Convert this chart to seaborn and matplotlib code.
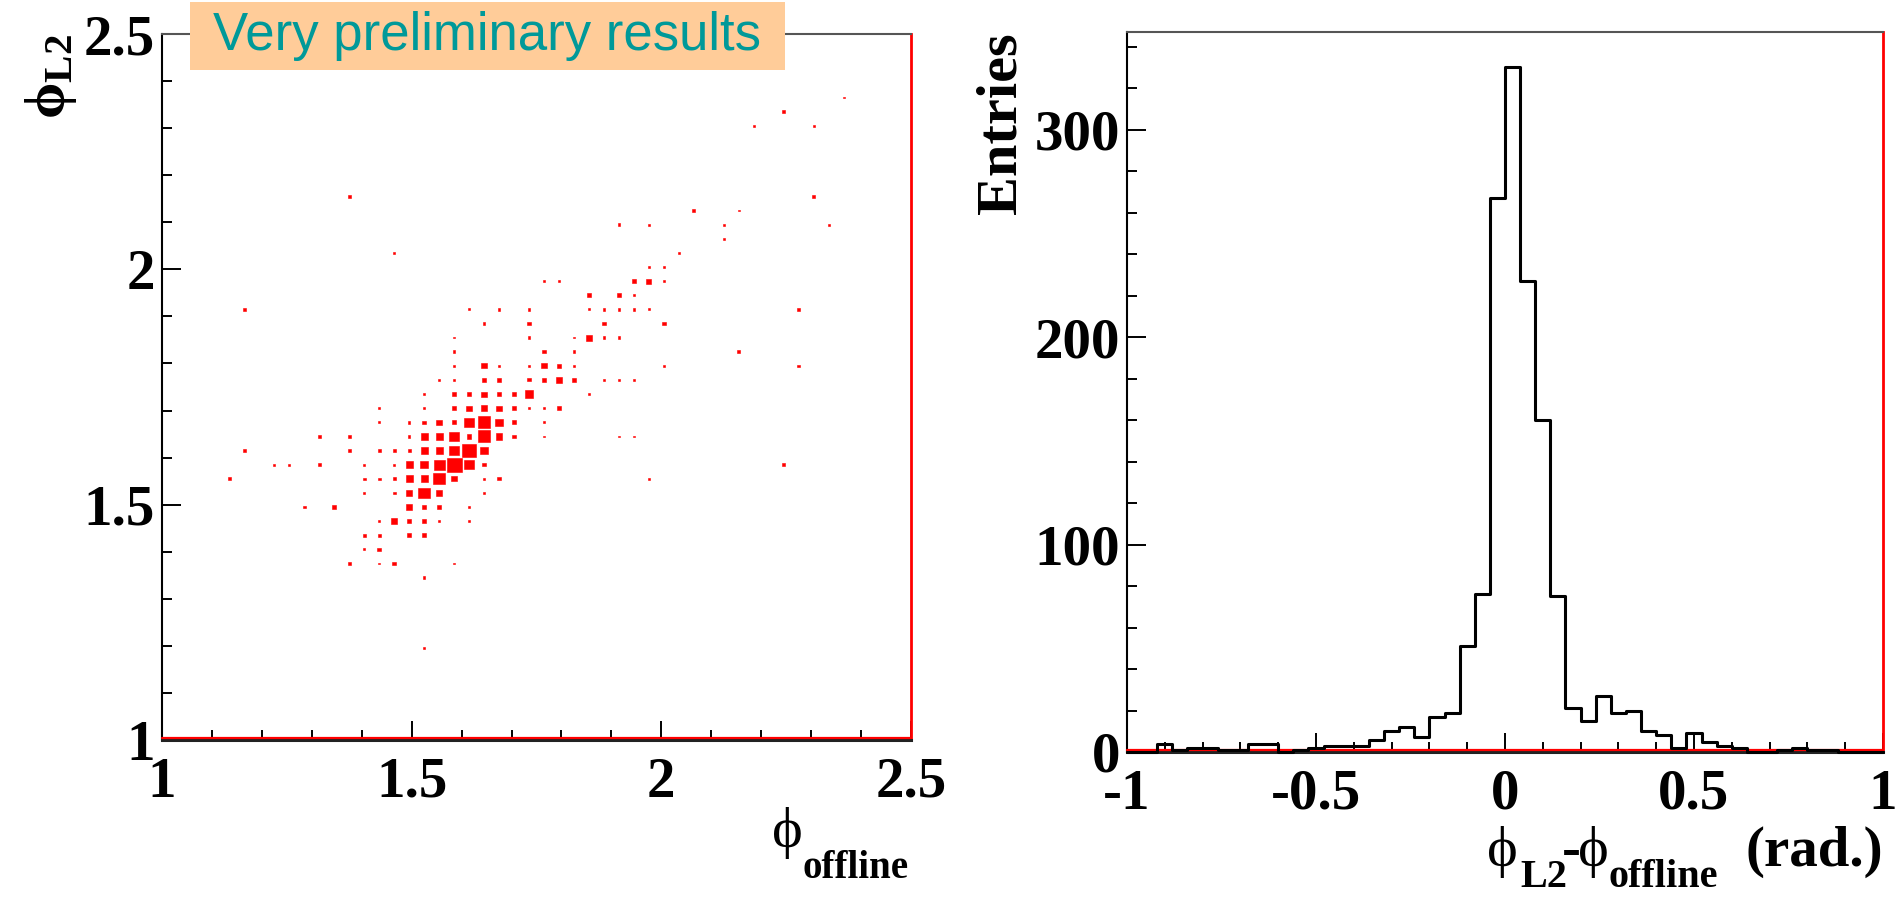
import numpy as np
import pandas as pd
import matplotlib
matplotlib.use('Agg')
import matplotlib.pyplot as plt
from matplotlib.patches import Rectangle
from matplotlib.collections import PatchCollection
from matplotlib.ticker import MultipleLocator, FuncFormatter
from matplotlib.transforms import offset_copy
import seaborn as sns

# phi_L2 vs phi_offline: 50x50 bins on [1, 2.5], only the filled cells
# (one line per phi_L2 bin)
off_bin = [17,
           17,
           12, 14, 15, 19,
           13, 14,
           13, 14, 16, 17,
           14, 15, 16, 17, 18, 20,
           9, 11, 16, 17, 18, 20,
           13, 15, 16, 17, 18, 21,
           4, 13, 14, 15, 16, 17, 18, 19, 21, 22, 32,
           7, 8, 10, 13, 15, 16, 17, 18, 19, 20, 21, 41,
           5, 12, 14, 15, 16, 17, 18, 19, 20, 21,
           10, 12, 16, 17, 18, 19, 20, 21, 22, 23, 25, 30, 31,
           14, 16, 17, 18, 19, 20, 21, 22, 23, 25,
           14, 17, 19, 20, 21, 22, 23, 24, 25, 26,
           17, 19, 20, 21, 22, 23, 24, 28,
           18, 19, 21, 22, 24, 25, 26, 27, 29, 30, 31,
           19, 21, 22, 24, 25, 26, 27, 33, 42,
           19, 25, 27, 38,
           19, 24, 27, 28, 29, 30,
           21, 24, 29, 33,
           5, 20, 22, 24, 28, 29, 30, 31, 32, 42,
           28, 30, 31,
           25, 26, 31, 32, 33,
           32, 33,
           15, 34,
           37,
           30, 32, 37, 44,
           35, 38,
           12, 43,
           39, 43,
           41,
           45]
l2_bin = [6,
          11,
          12, 12, 12, 12,
          13, 13,
          14, 14, 14, 14,
          15, 15, 15, 15, 15, 15,
          16, 16, 16, 16, 16, 16,
          17, 17, 17, 17, 17, 17,
          18, 18, 18, 18, 18, 18, 18, 18, 18, 18, 18,
          19, 19, 19, 19, 19, 19, 19, 19, 19, 19, 19, 19,
          20, 20, 20, 20, 20, 20, 20, 20, 20, 20,
          21, 21, 21, 21, 21, 21, 21, 21, 21, 21, 21, 21, 21,
          22, 22, 22, 22, 22, 22, 22, 22, 22, 22,
          23, 23, 23, 23, 23, 23, 23, 23, 23, 23,
          24, 24, 24, 24, 24, 24, 24, 24,
          25, 25, 25, 25, 25, 25, 25, 25, 25, 25, 25,
          26, 26, 26, 26, 26, 26, 26, 26, 26,
          27, 27, 27, 27,
          28, 28, 28, 28, 28, 28,
          29, 29, 29, 29,
          30, 30, 30, 30, 30, 30, 30, 30, 30, 30,
          31, 31, 31,
          32, 32, 32, 32, 32,
          33, 33,
          34, 34,
          35,
          36, 36, 36, 36,
          37, 37,
          38, 38,
          43, 43,
          44,
          45]
cell_n = [2,
          2,
          2, 1, 4, 1,
          1, 4,
          2, 2, 4, 4,
          1, 10, 6, 6, 2, 1,
          2, 4, 10, 4, 4, 2,
          1, 2, 11, 37, 11, 1,
          3, 2, 2, 3, 15, 15, 37, 8, 2, 3, 1,
          1, 1, 2, 1, 1, 15, 18, 33, 64, 25, 3, 2,
          3, 3, 2, 3, 3, 15, 15, 25, 52, 15,
          2, 2, 2, 15, 15, 25, 6, 46, 13, 4, 1, 1, 1,
          1, 2, 4, 10, 6, 25, 46, 15, 5, 1,
          1, 2, 4, 8, 13, 8, 5, 2, 1, 4,
          2, 4, 5, 8, 4, 4, 18, 1,
          2, 1, 5, 4, 3, 4, 10, 4, 2, 2, 1,
          1, 8, 2, 2, 8, 5, 1, 1, 2,
          2, 4, 2, 2,
          1, 2, 1, 12, 2, 2,
          2, 3, 3, 4,
          2, 1, 2, 2, 1, 2, 2, 2, 1, 2,
          5, 5, 2,
          1, 1, 4, 8, 1,
          2, 2,
          1, 1,
          1,
          2, 1, 1, 1,
          2, 1,
          3, 2,
          1, 1,
          3,
          1]

# phi_L2 - phi_offline: 50 bins on [-1, 1]
dphi_counts = [0, 0, 4, 1, 2, 2, 1, 1, 4, 4,
               0, 1, 2, 3, 3, 3, 6, 10, 12, 7,
               17, 19, 51, 76, 267, 330, 227, 160, 75, 21,
               15, 27, 19, 20, 10, 8, 2, 9, 5, 3,
               2, 0, 0, 1, 2, 1, 1, 0, 0, 0]

sns.set_style('ticks')
plt.rcParams['font.family'] = ['Liberation Serif', 'DejaVu Serif']
plt.rcParams['font.weight'] = 'bold'
plt.rcParams['text.color'] = 'black'
plt.rcParams['axes.labelcolor'] = 'black'
plt.rcParams['xtick.color'] = 'black'
plt.rcParams['ytick.color'] = 'black'
plt.rcParams['axes.unicode_minus'] = False
plt.rcParams['mathtext.fontset'] = 'custom'
plt.rcParams['mathtext.rm'] = 'Liberation Serif'
plt.rcParams['mathtext.bf'] = 'Liberation Serif:bold'
plt.rcParams['mathtext.it'] = 'Liberation Serif:italic'

W, H = 1903, 898
fig = plt.figure(figsize=(W / 100, H / 100), dpi=100)
ax1 = fig.add_axes([162 / W, (H - 740) / H, 749 / W, 706 / H])
ax2 = fig.add_axes([1127 / W, (H - 752) / H, 756 / W, 720 / H])


def px_text(x, y, s, **kw):
    # text placed in figure pixels, measured from the top-left corner
    return fig.text(x / W, 1 - y / H, s, **kw)


# left: box plot of the 2d histogram
edges2 = np.linspace(1, 2.5, 51)
bw = edges2[1] - edges2[0]
nmax = max(cell_n)
boxes = []
for ix, iy, n in zip(off_bin, l2_bin, cell_n):
    s = bw * np.sqrt(n / nmax)
    xc = edges2[ix] + bw / 2
    yc = edges2[iy] + bw / 2
    boxes.append(Rectangle((xc - s / 2, yc - s / 2), s, s))
ax1.add_collection(PatchCollection(boxes, facecolor='#ff0000', edgecolor='#ff0000', linewidth=0.4))
ax1.set_xlim(1, 2.5)
ax1.set_ylim(1, 2.5)
ax1.xaxis.set_major_locator(MultipleLocator(0.5))
ax1.xaxis.set_minor_locator(MultipleLocator(0.1))
ax1.yaxis.set_major_locator(MultipleLocator(0.5))
ax1.yaxis.set_minor_locator(MultipleLocator(0.1))

# right: 1d difference histogram
edges1 = np.linspace(-1, 1, 51)
dphi = pd.DataFrame({'dphi': (edges1[:-1] + edges1[1:]) / 2, 'n': dphi_counts})
sns.histplot(data=dphi, x='dphi', weights='n', bins=list(edges1), element='step', fill=False,
             color='black', linewidth=2.2, ax=ax2, zorder=3)
for ln in ax2.lines:
    ln.set_clip_on(False)
ax2.set_xlabel('')
ax2.set_xlim(-1, 1)
ax2.set_ylim(0, 347)
ax2.xaxis.set_major_locator(MultipleLocator(0.5))
ax2.xaxis.set_minor_locator(MultipleLocator(0.1))
ax2.yaxis.set_major_locator(MultipleLocator(100))
ax2.yaxis.set_minor_locator(MultipleLocator(20))

fmt = FuncFormatter(lambda v, p: f'{v:g}')
for ax, fs in [(ax1, 41), (ax2, 41)]:
    ax.xaxis.set_major_formatter(fmt)
    ax.yaxis.set_major_formatter(fmt)
    ax.tick_params(which='both', direction='in', top=False, right=False, width=1.4, color='black')
    ax.tick_params(which='major', length=14)
    ax.tick_params(which='minor', length=7)
    ax.tick_params(axis='x', labelsize=fs, pad=12)
    ax.tick_params(axis='y', labelsize=fs, pad=5)
    for lab in ax.get_xticklabels() + ax.get_yticklabels():
        lab.set_fontweight('bold')
    ax.spines['left'].set_color('black')
    ax.spines['left'].set_linewidth(1.5)
    ax.spines['top'].set_color('#555555')
    ax.spines['top'].set_linewidth(1.5)
    ax.spines['bottom'].set_color('#222222')
    ax.spines['bottom'].set_linewidth(2.2)
    ax.spines['right'].set_color('#ff0000')
    ax.spines['right'].set_linewidth(2)
    ax.set_facecolor('white')
    # red frame line just above the black bottom axis
    ax.plot([0, 1], [0, 0], color='#ff0000', linewidth=1.6, clip_on=False, zorder=2.6,
            transform=offset_copy(ax.transAxes, fig=fig, x=0, y=2, units='dots'))

# axis titles (ROOT style: right / top aligned)
ax1.set_ylabel(r'$\mathrm{\phi}_{\mathbf{L2}}$', loc='top', fontsize=42)
ax1.yaxis.set_label_coords(-0.111, 1.0)
ax2.set_ylabel('Entries', loc='top', fontsize=42, fontweight='bold')
ax2.yaxis.set_label_coords(-0.132, 1.0)

phi_kw = dict(fontsize=42, fontweight='normal', va='baseline')
sub_kw = dict(fontweight='bold', va='baseline')
px_text(787, 847, '\u03d5', ha='center', **phi_kw)
px_text(909, 878, 'offline', ha='right', fontsize=28, **sub_kw)

px_text(1502, 866, '\u03d5', ha='center', **phi_kw)
px_text(1520, 887, 'L2', ha='left', fontsize=29, **sub_kw)
px_text(1571, 866, '-', ha='center', fontsize=41, fontweight='bold', va='baseline')
px_text(1593, 866, '\u03d5', ha='center', **phi_kw)
px_text(1608, 887, 'offline', ha='left', fontsize=29, **sub_kw)
px_text(1883, 866, '(rad.)', ha='right', fontsize=41, fontweight='bold', va='baseline')

# label box over the left panel
fig.patches.append(Rectangle((190 / W, (H - 70) / H), 595 / W, 68 / H,
                             transform=fig.transFigure, facecolor='#ffcc99',
                             edgecolor='none', zorder=5))
fig.text(487 / W, (H - 36) / H, 'Very preliminary results', ha='center', va='center',
         fontsize=38, family='Liberation Sans', fontweight='normal', color='#009999', zorder=6)

fig.savefig('out.png', dpi=100)
